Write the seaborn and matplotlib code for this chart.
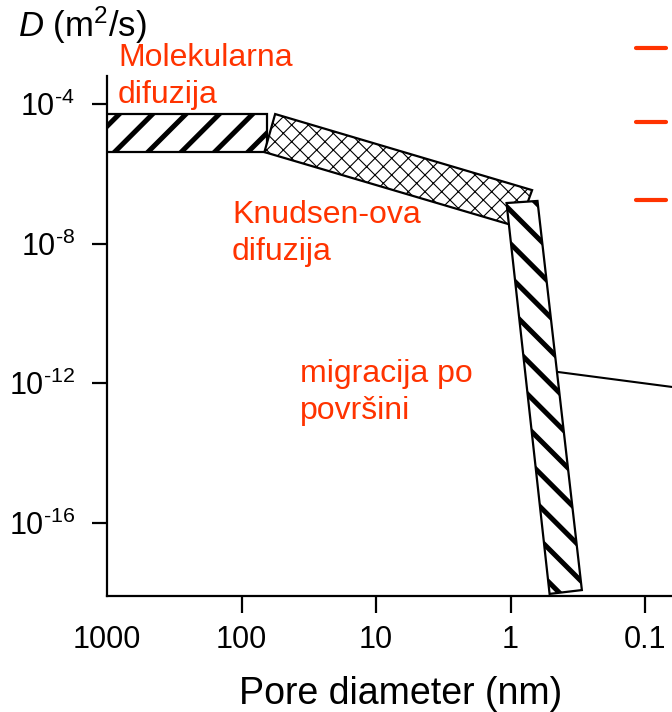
import numpy as np
import matplotlib
matplotlib.use('Agg')
import matplotlib.pyplot as plt
import seaborn as sns
from matplotlib.lines import Line2D

sns.set_style("white")
plt.rcParams['font.family'] = ['Liberation Sans', 'DejaVu Sans']
plt.rcParams['mathtext.fontset'] = 'custom'
plt.rcParams['mathtext.rm'] = 'Liberation Sans'
plt.rcParams['mathtext.it'] = 'Liberation Sans:italic'
plt.rcParams['mathtext.default'] = 'regular'
for k in ['text.color', 'axes.labelcolor', 'xtick.color', 'ytick.color']:
    plt.rcParams[k] = 'black'

RED = '#ff3300'

# -----------------------------------------------------------------
# DATA: outlines of each transport regime, log10(pore diameter / nm)
# and log10(D / m2 s-1)
# -----------------------------------------------------------------
mol_d = [3.0, 1.81, 1.81, 3.0]
mol_D = [-4.29, -4.29, -5.38, -5.38]

knud_d = [1.75, -0.16, -0.06, 1.83]
knud_D = [-4.29, -6.47, -7.53, -5.38]

surf_d = [0.03, -0.20, -0.53, -0.29]
surf_D = [-6.84, -6.78, -17.93, -18.04]

pointer_d = [-0.35, -1.20]
pointer_D = [-11.68, -12.11]

xticks = [1000, 100, 10, 1, 0.1]
xticklabels = ['1000', '100', '10', '1', '0.1']
yticks = [1e-4, 1e-8, 1e-12, 1e-16]
yticklabels = [r'$10^{\text{-}4}$', r'$10^{\text{-}8}$',
               r'$10^{\text{-}12}$', r'$10^{\text{-}16}$']

labels = ['Molekularna\ndifuzija', 'Knudsen-ova\ndifuzija', 'migracija po\npovršini']
label_px = [(118, 103), (232, 260), (300, 419)]   # left, last baseline (pixels)
legend_dash_px = [48, 122, 200]

# -----------------------------------------------------------------
# FIGURE
# -----------------------------------------------------------------
W, H = 672, 712
fig = plt.figure(figsize=(W / 100, H / 100), dpi=100)
ax = fig.add_axes([107 / W, 1 - 596 / H, 565 / W, 520 / H])
ax.set_xscale('log')
ax.set_yscale('log')
ax.set_xlim(1000, 10 ** -1.2)
ax.set_ylim(10 ** -18.1, 10 ** -3.2)


def region(xs, ys, hatch, hlw):
    plt.rcParams['hatch.linewidth'] = hlw
    p = ax.fill(10 ** np.array(xs), 10 ** np.array(ys), facecolor='white',
                edgecolor='black', hatch=hatch, lw=1.6, zorder=3)[0]
    if hasattr(p, 'set_hatch_linewidth'):
        p.set_hatch_linewidth(hlw)
    return p


region(mol_d, mol_D, '/', 3.6)
region(knud_d, knud_D, 'xx', 0.8)
region(surf_d, surf_D, '\\', 3.6)

sns.lineplot(x=10 ** np.array(pointer_d), y=10 ** np.array(pointer_D),
             color='black', lw=1.5, ax=ax, zorder=2)

ax.minorticks_off()
ax.set_xticks(xticks)
ax.set_xticklabels(xticklabels)
ax.set_yticks(yticks)
ax.set_yticklabels(yticklabels)
ax.minorticks_off()
ax.tick_params(axis='x', direction='out', length=12, width=1.6, pad=9,
               labelsize=22, bottom=True, colors='black')
ax.tick_params(axis='y', direction='out', length=11, width=1.6, pad=12,
               labelsize=22, left=True, colors='black')
ax.xaxis.get_major_ticks()[0].tick1line.set_visible(False)

sns.despine(ax=ax)
for s in ['left', 'bottom']:
    ax.spines[s].set_linewidth(1.6)
    ax.spines[s].set_color('black')

ax.set_xlabel('Pore diameter (nm)', fontsize=27)
ax.xaxis.set_label_coords(0.519, -0.153)

fig.text(18 / W, 1 - 37 / H, r'$\mathit{D}$ (m$^2$/s)', fontsize=25,
         va='baseline', ha='left')

for txt, (px, py) in zip(labels, label_px):
    fig.text(px / W, 1 - py / H, txt, color=RED, fontsize=23,
             va='baseline', ha='left', linespacing=1.3)

for yy in legend_dash_px:
    fig.add_artist(Line2D([636 / W, 666 / W], [1 - yy / H] * 2,
                          color=RED, lw=3))

fig.savefig('out.png', dpi=100)
